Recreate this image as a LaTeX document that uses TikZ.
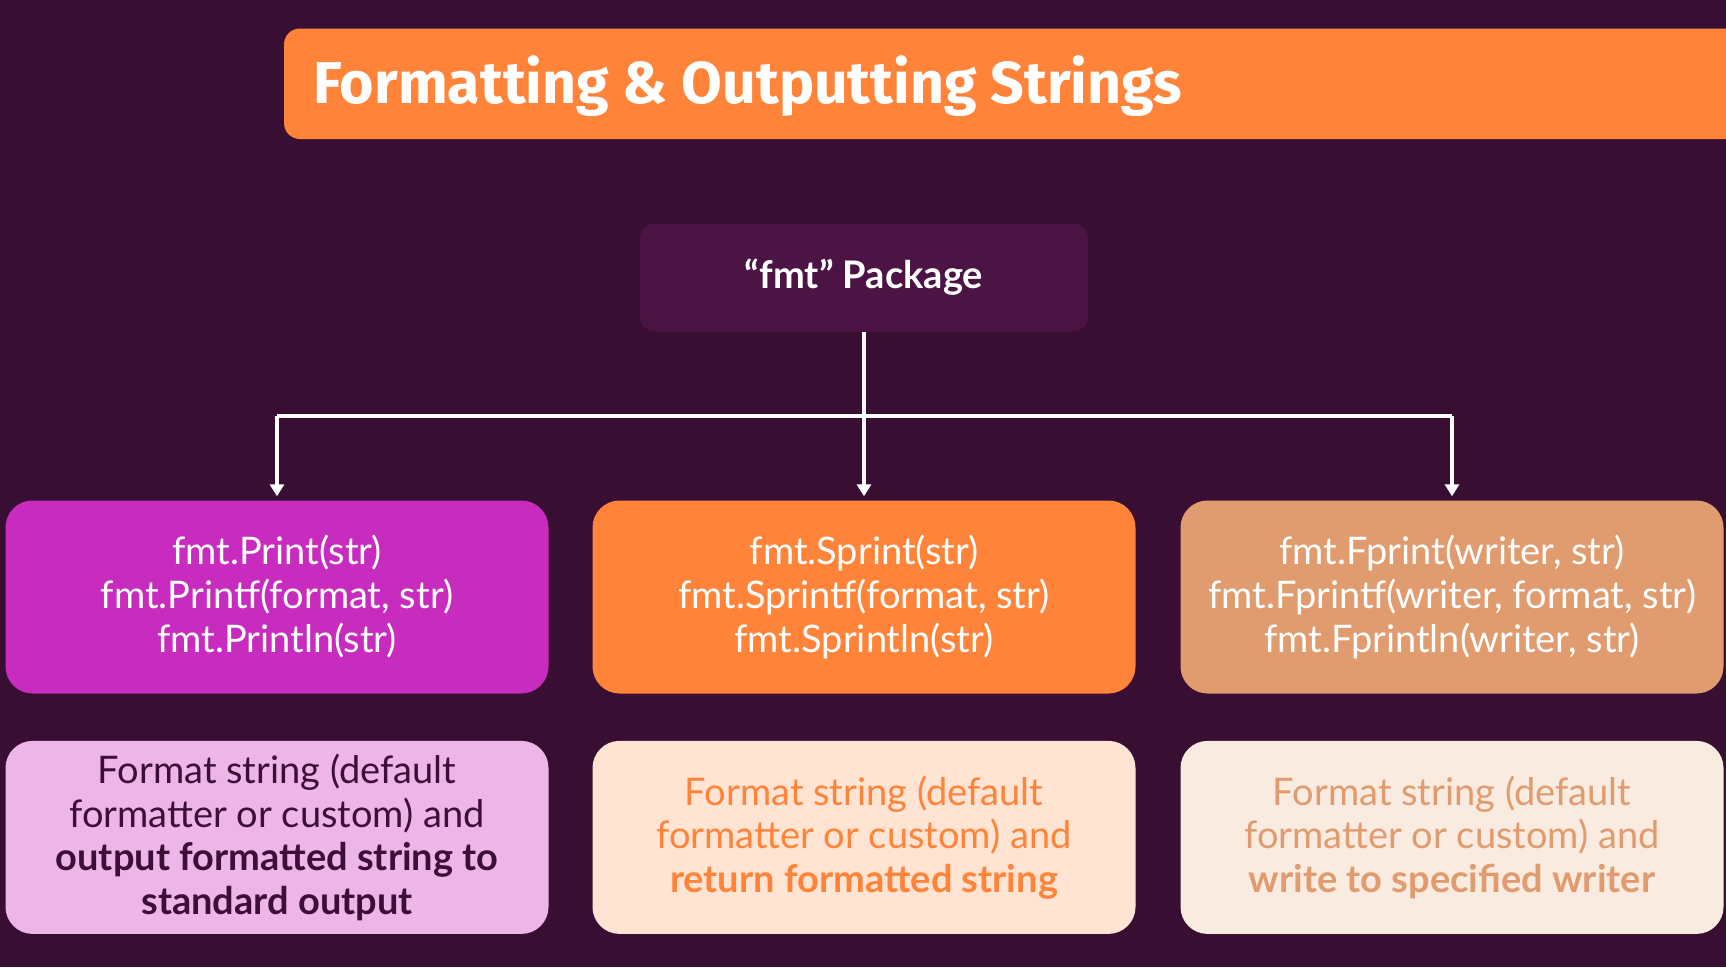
\documentclass[tikz,border=0pt]{standalone}
\usepackage{fontspec}
\setmainfont{Lato}
\newfontfamily\titlefont{Fira Sans}
\usetikzlibrary{positioning,arrows.meta}
\definecolor{bgplum}{RGB}{56,15,51}
\definecolor{pkgplum}{RGB}{75,20,68}
\definecolor{hotorange}{RGB}{255,132,57}
\definecolor{magenta}{RGB}{199,44,190}
\definecolor{tan}{RGB}{224,155,110}
\definecolor{lightpink}{RGB}{237,181,232}
\definecolor{peach}{RGB}{255,228,211}
\definecolor{cream}{RGB}{249,235,224}
\definecolor{darkplum}{RGB}{61,14,55}
\tikzset{
  funcbox/.style={rounded corners=27pt, minimum width=543pt, minimum height=193pt,
    align=center, font=\fontsize{38}{44}\selectfont, text=white},
  notebox/.style={rounded corners=27pt, minimum width=543pt, minimum height=193pt,
    align=center, font=\fontsize{38}{43.5}\selectfont},
  wire/.style={draw=white, line width=3.3pt},
  link/.style={wire, -{Triangle[width=14pt,length=12pt]}, shorten >=4pt}
}
\begin{document}
\begin{tikzpicture}[x=1pt,y=-1pt]
  \useasboundingbox (0,0) rectangle (1726,967);
  \fill[bgplum] (0,0) rectangle (1726,967);
  % title bar
  \fill[hotorange, rounded corners=16pt] (284,28.5) rectangle (1760,139);
  \node[anchor=west, text=white, inner sep=0pt] (title) at (313,86)
    {\titlefont\bfseries\fontsize{59}{66}\selectfont Formatting \& Outputting Strings};
  % package
  \node[fill=pkgplum, rounded corners=15pt, minimum width=448pt, minimum height=108pt,
    text=white, font=\bfseries\fontsize{38}{42}\selectfont] (pkg) at (864,277.5)
    {“fmt” Package};
  % functions
  \node[funcbox, fill=magenta] (print) at (277,597)
    {fmt.Print(str)\\fmt.Printf(format, str)\\fmt.Println(str)};
  \node[funcbox, fill=hotorange] (sprint) at (864,597)
    {fmt.Sprint(str)\\fmt.Sprintf(format, str)\\fmt.Sprintln(str)};
  \node[funcbox, fill=tan] (fprint) at (1452,597)
    {fmt.Fprint(writer, str)\\fmt.Fprintf(writer, format, str)\\fmt.Fprintln(writer, str)};
  % notes
  \node[notebox, fill=lightpink, text=darkplum, below=47pt of print] (printnote)
    {Format string (default\\formatter or custom) and\\\textbf{output formatted string to}\\\textbf{standard output}};
  \node[notebox, fill=peach, text=hotorange, below=47pt of sprint] (sprintnote)
    {Format string (default\\formatter or custom) and\\\textbf{return formatted string}};
  \node[notebox, fill=cream, text=tan, below=47pt of fprint] (fprintnote)
    {Format string (default\\formatter or custom) and\\\textbf{write to specified writer}};
  % connectors
  \coordinate (split) at (864,416);
  \draw[wire] (split -| print.north) -- (split -| fprint.north);
  \draw[link] (pkg.south) -- (sprint.north);
  \draw[link] (split -| print.north) -- (print.north);
  \draw[link] (split -| fprint.north) -- (fprint.north);
\end{tikzpicture}
\end{document}
